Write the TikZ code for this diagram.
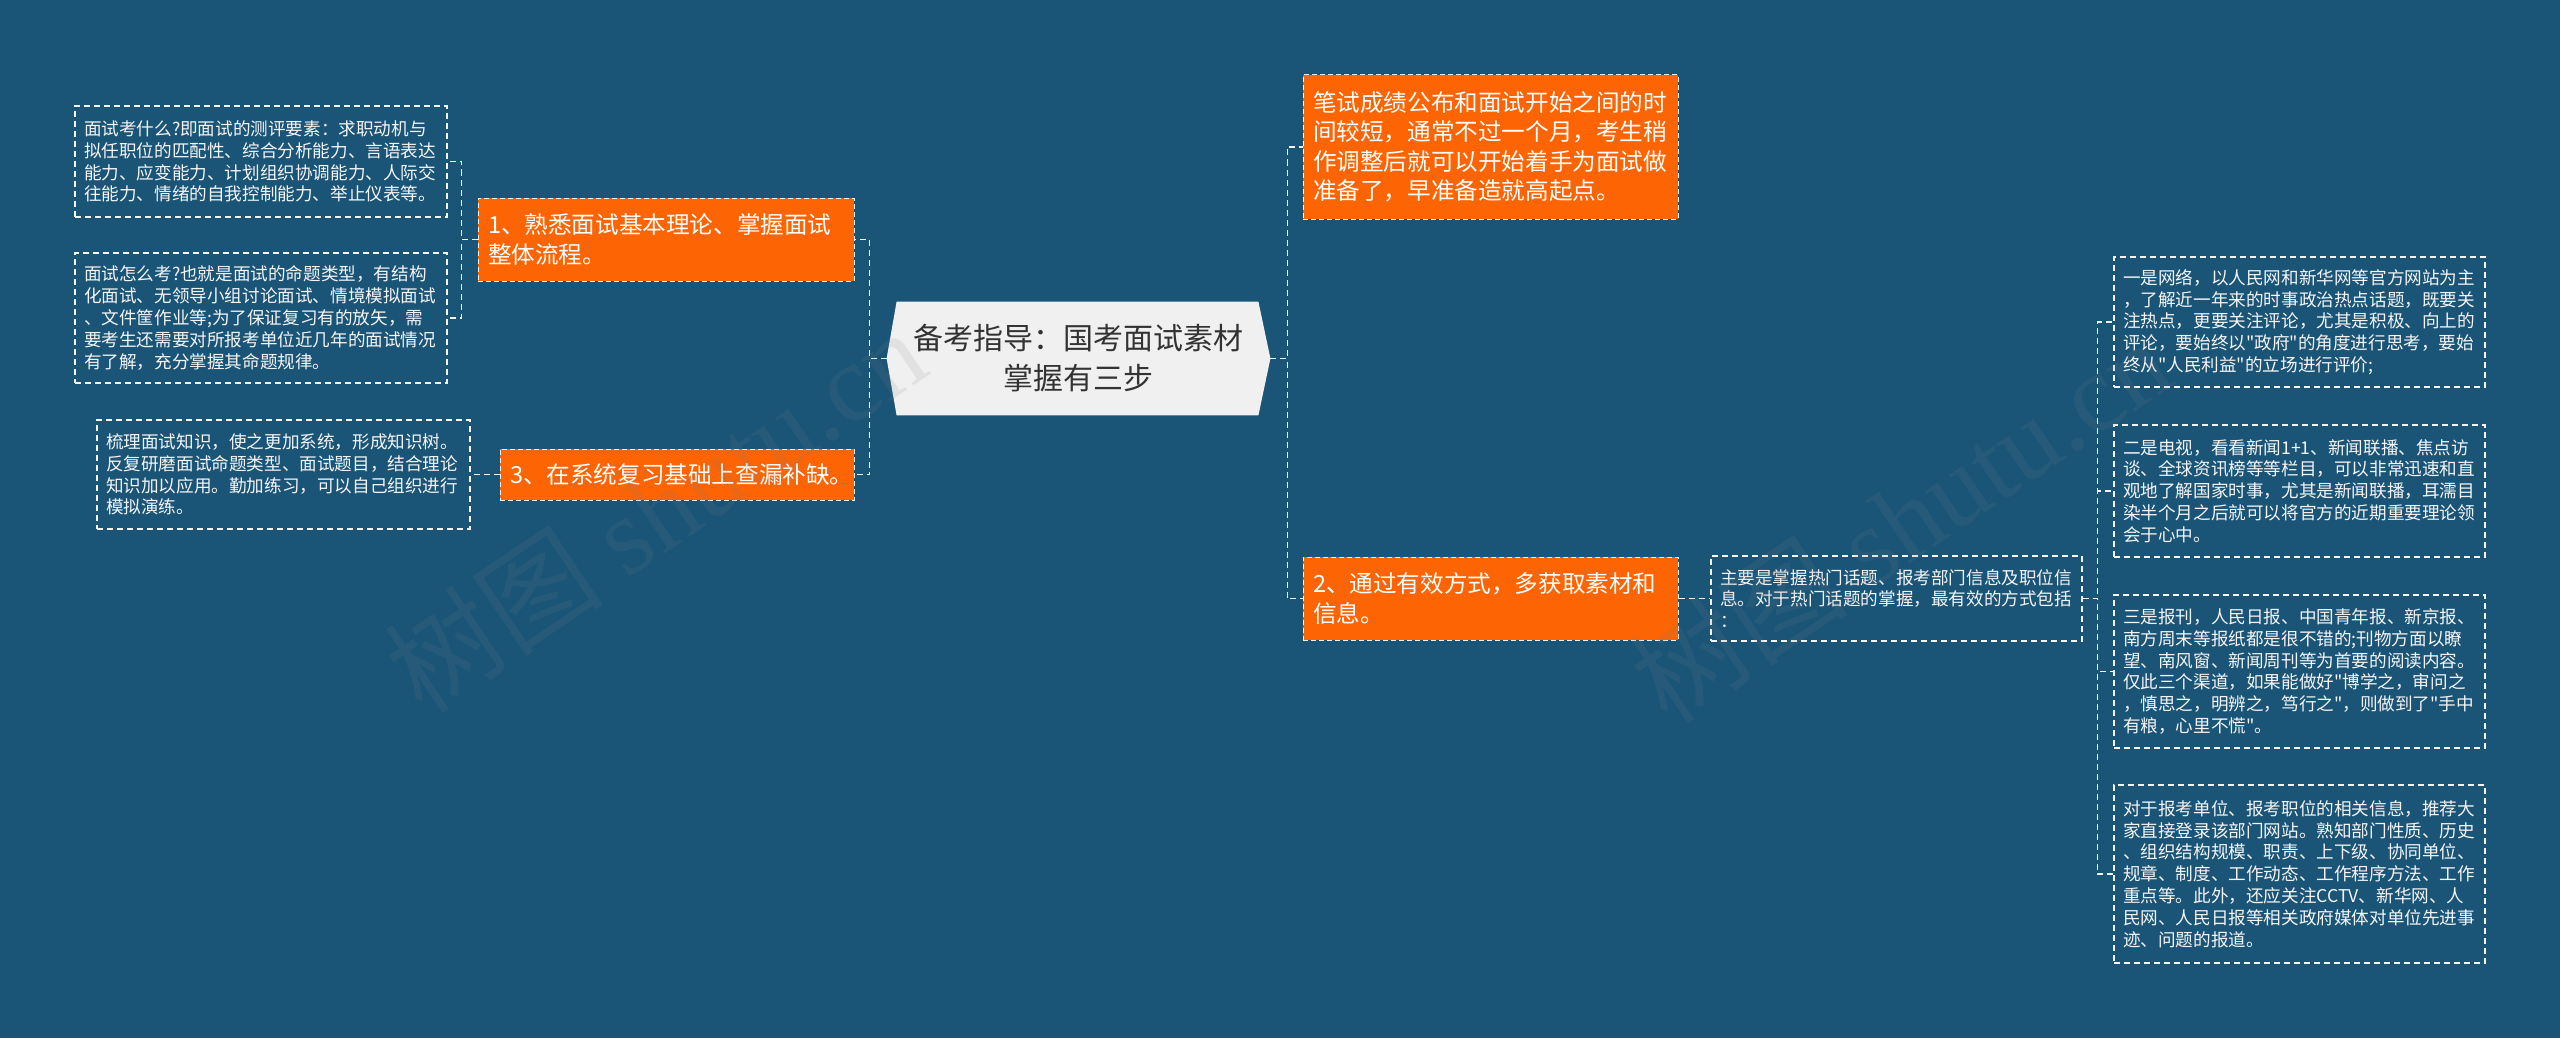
\documentclass[tikz,border=0pt]{standalone}
\usepackage{fontspec}
\setmainfont{Noto Sans CJK SC}
\newfontfamily\wmlatin{Liberation Serif}
\usetikzlibrary{backgrounds}
\definecolor{bgblue}{RGB}{26,85,120}
\definecolor{orng}{RGB}{252,100,4}
\definecolor{rootgrey}{RGB}{240,240,240}
\definecolor{roottxt}{RGB}{51,51,51}
\definecolor{leaftxt}{RGB}{245,245,245}
\newcommand{\sq}{\textquotedbl{}}
\tikzset{
  leaf/.style={draw=white!92!gray, dash pattern=on 3pt off 2pt, line width=0.6pt,
    text=leaftxt, font=\fontsize{8.8pt}{10.9pt}\selectfont, align=left,
    inner xsep=4.5pt, inner ysep=3pt},
  orangebox/.style={fill=orng, draw=white!88!gray, dash pattern=on 2.5pt off 1.5pt,
    line width=0.5pt, text=white, font=\fontsize{11.8pt}{14.75pt}\selectfont,
    align=left, inner xsep=5pt},
  rootbox/.style={text=roottxt, font=\fontsize{15pt}{20pt}\selectfont, align=center,
    minimum width=191.5pt, minimum height=56.5pt, inner sep=0pt},
  conn/.style={draw=white!92!gray, line width=0.7pt, dash pattern=on 3pt off 2pt},
  wm/.style={text=gray, opacity=0.13, font=\fontsize{55pt}{60pt}\selectfont},
}
\begin{document}
\begin{tikzpicture}[x=0.5pt,y=-0.5pt]
\useasboundingbox (0,0) rectangle (2560,1038);

% root
\node[rootbox] (root) at (1078.5,358.5) {备考指导：国考面试素材\\掌握有三步};
\begin{scope}[on background layer]
  \fill[bgblue] (0,0) rectangle (2560,1038);
  \fill[rootgrey] ([xshift=5pt]root.north west) -- ([xshift=-6pt]root.north east)
     -- (root.east) -- ([xshift=-6pt]root.south east) -- ([xshift=5pt]root.south west)
     -- (root.west) -- cycle;
\end{scope}

% left branch
\node[orangebox, text width=178pt, minimum height=41.5pt] (n1) at (666,239.5)
  {1、熟悉面试基本理论、掌握面试\\整体流程。};
\node[orangebox, text width=167pt, minimum height=25.5pt] (n3) at (677,474.5)
  {3、在系统复习基础上查漏补缺。};

\node[leaf, text width=177pt, minimum height=55.5pt] (l1a) at (261,161.5)
  {面试考什么?即面试的测评要素：求职动机与\\拟任职位的匹配性、综合分析能力、言语表达\\能力、应变能力、计划组织协调能力、人际交\\往能力、情绪的自我控制能力、举止仪表等。};
\node[leaf, text width=177pt, minimum height=65pt] (l1b) at (261,318)
  {面试怎么考?也就是面试的命题类型，有结构\\化面试、无领导小组讨论面试、情境模拟面试\\、文件筐作业等;为了保证复习有的放矢，需\\要考生还需要对所报考单位近几年的面试情况\\有了解，充分掌握其命题规律。};
\node[leaf, text width=177.5pt, minimum height=54.5pt] (l3) at (283.5,474.5)
  {梳理面试知识，使之更加系统，形成知识树。\\反复研磨面试命题类型、面试题目，结合理论\\知识加以应用。勤加练习，可以自己组织进行\\模拟演练。};

% right branch
\node[orangebox, text width=177.5pt, minimum height=72pt] (r1) at (1490.5,147)
  {笔试成绩公布和面试开始之间的时\\间较短，通常不过一个月，考生稍\\作调整后就可以开始着手为面试做\\准备了，早准备造就高起点。};
\node[orangebox, text width=177.5pt, minimum height=41.5pt] (r2) at (1490.5,598.5)
  {2、通过有效方式，多获取素材和\\信息。};
\node[leaf, text width=176.5pt, minimum height=42.5pt] (info) at (1896.5,598.5)
  {主要是掌握热门话题、报考部门信息及职位信\\息。对于热门话题的掌握，最有效的方式包括\\：};

\node[leaf, text width=176.5pt, minimum height=65pt] (q1) at (2299.5,322)
  {一是网络，以人民网和新华网等官方网站为主\\，了解近一年来的时事政治热点话题，既要关\\注热点，更要关注评论，尤其是积极、向上的\\评论，要始终以\sq 政府\sq 的角度进行思考，要始\\终从\sq 人民利益\sq 的立场进行评价;};
\node[leaf, text width=176.5pt, minimum height=66pt] (q2) at (2299.5,491)
  {二是电视，看看新闻1+1、新闻联播、焦点访\\谈、全球资讯榜等等栏目，可以非常迅速和直\\观地了解国家时事，尤其是新闻联播，耳濡目\\染半个月之后就可以将官方的近期重要理论领\\会于心中。};
\node[leaf, text width=176.5pt, minimum height=76.5pt] (q3) at (2299.5,671.5)
  {三是报刊，人民日报、中国青年报、新京报、\\南方周末等报纸都是很不错的;刊物方面以瞭\\望、南风窗、新闻周刊等为首要的阅读内容。\\仅此三个渠道，如果能做好\sq 博学之，审问之\\，慎思之，明辨之，笃行之\sq ，则做到了\sq 手中\\有粮，心里不慌\sq 。};
\node[leaf, text width=176.5pt, minimum height=89pt] (q4) at (2299.5,874)
  {对于报考单位、报考职位的相关信息，推荐大\\家直接登录该部门网站。熟知部门性质、历史\\、组织结构规模、职责、上下级、协同单位、\\规章、制度、工作动态、工作程序方法、工作\\重点等。此外，还应关注CCTV、新华网、人\\民网、人民日报等相关政府媒体对单位先进事\\迹、问题的报道。};

% connectors
\draw[conn] (root.west) -- ++(-8.5pt,0) |- (n1.east);
\draw[conn] (root.west) -- ++(-8.5pt,0) |- (n3.east);
\draw[conn] (n1.west) -- ++(-8pt,0) |- (l1a.east);
\draw[conn] (n1.west) -- ++(-8pt,0) |- (l1b.east);
\draw[conn] (n3.west) -- (l3.east);
\draw[conn] (root.east) -- ++(8.5pt,0) |- (r1.west);
\draw[conn] (root.east) -- ++(8.5pt,0) |- (r2.west);
\draw[conn] (r2.east) -- (info.west);
\draw[conn] (info.east) -- ++(7.5pt,0) |- (q1.west);
\draw[conn] (info.east) -- ++(7.5pt,0) |- (q2.west);
\draw[conn] (info.east) -- ++(7.5pt,0) |- (q3.west);
\draw[conn] (info.east) -- ++(7.5pt,0) |- (q4.west);

% watermarks
\node[wm, rotate=34] (wm1) at (655,510) {树图 {\wmlatin shutu.cn}};
\node[wm, rotate=34] (wm2) at (1900,520) {树图 {\wmlatin shutu.cn}};
\end{tikzpicture}
\end{document}
